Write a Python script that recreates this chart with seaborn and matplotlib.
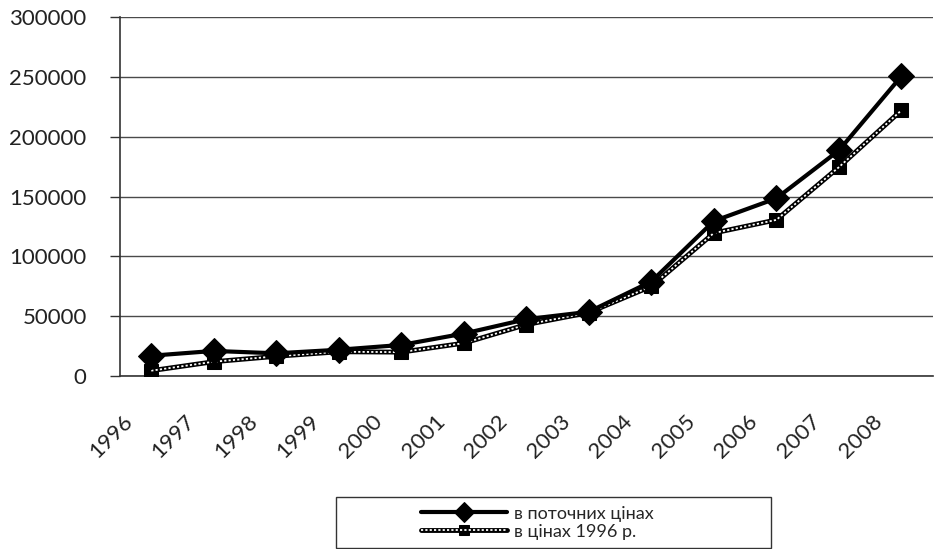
import seaborn as sns
import matplotlib.pyplot as plt
import pandas as pd
from matplotlib.legend_handler import HandlerTuple
from matplotlib.patches import Rectangle
from matplotlib.transforms import ScaledTranslation

# data
years = ["1996", "1997", "1998", "1999", "2000", "2001", "2002",
         "2003", "2004", "2005", "2006", "2007", "2008"]
current_prices = [17000, 21000, 19000, 22000, 26000, 35500, 47500,
                  53700, 79000, 129500, 148500, 188500, 250500]
prices_1996 = [4500, 12000, 16500, 20300, 20000, 27500, 43000,
               53000, 75000, 119500, 130500, 174500, 222000]
label_current = "в поточних цінах"
label_1996 = "в цінах 1996 р."

df = pd.DataFrame({"year": years, "cur": current_prices, "base": prices_1996})

sns.set_style("white")
plt.rcParams["font.family"] = ["Lato", "DejaVu Sans"]

fig = plt.figure(figsize=(9.34, 5.49), dpi=100)
ax = fig.add_axes([0.1285, 0.315, 0.870, 0.654])

# 1996-prices line: black outline with white dotted core
sns.lineplot(data=df, x="year", y="base", ax=ax, color="black", linewidth=3.5,
             marker="s", markersize=10, markeredgecolor="black", sort=False, zorder=3)
base_line = ax.lines[-1]
ax.plot(df["year"], df["base"], color="white", linewidth=1.3, linestyle=(0, (1.2, 1.2)), zorder=3.5)
base_core = ax.lines[-1]

# current prices line
sns.lineplot(data=df, x="year", y="cur", ax=ax, color="black", linewidth=3,
             marker="D", markersize=13.5, markeredgecolor="black", sort=False, zorder=4)
cur_line = ax.lines[-1]

ax.set_xlim(-0.5, len(years) - 0.5)
ax.set_ylim(0, 300000)
ax.set_yticks(range(0, 300001, 50000))
ax.set_yticklabels([str(v) for v in range(0, 300001, 50000)], fontsize=16)
ax.grid(axis="y", color="#4a4a4a", linewidth=1)
ax.set_axisbelow(True)

ax.set_xticks(range(len(years)))
ax.set_xticklabels(years, fontsize=16, rotation=45, ha="right", va="center",
                   rotation_mode="anchor")
ax.set_xticks([i - 0.5 for i in range(len(years) + 1)], minor=True)
ax.tick_params(axis="x", which="major", length=0, pad=0)
ax.tick_params(axis="x", which="minor", length=7, width=1, color="#333333")
ax.tick_params(axis="y", length=7, width=1, color="#333333", left=True, pad=17)
# Excel-like placement of the rotated year labels
shift = ScaledTranslation(-22 / 100, -42 / 100, fig.dpi_scale_trans)
for lbl in ax.get_xticklabels():
    lbl.set_transform(lbl.get_transform() + shift)
for lbl in ax.get_yticklabels() + ax.get_xticklabels():
    lbl.set_color("#222222")

ax.set_xlabel("")
ax.set_ylabel("")
for side in ["top", "right"]:
    ax.spines[side].set_visible(False)
for side in ["left", "bottom"]:
    ax.spines[side].set_color("#333333")
    ax.spines[side].set_linewidth(1.2)

# legend box (wide frame like the original)
fig.patches.append(Rectangle((336 / 934, 1 - 548 / 549), 435 / 934, 51 / 549,
                             transform=fig.transFigure, facecolor="white",
                             edgecolor="#333333", linewidth=1, zorder=0))
leg = fig.legend([cur_line, (base_line, base_core)], [label_current, label_1996],
                 handler_map={tuple: HandlerTuple(ndivide=1)},
                 loc="center", bbox_to_anchor=(0.575, 0.048), ncol=1,
                 fontsize=13, frameon=False, borderpad=0.2, markerscale=0.75,
                 labelspacing=0.1, handlelength=4.8, handletextpad=0.35,
                 borderaxespad=0)

fig.savefig("out.png", dpi=100)
